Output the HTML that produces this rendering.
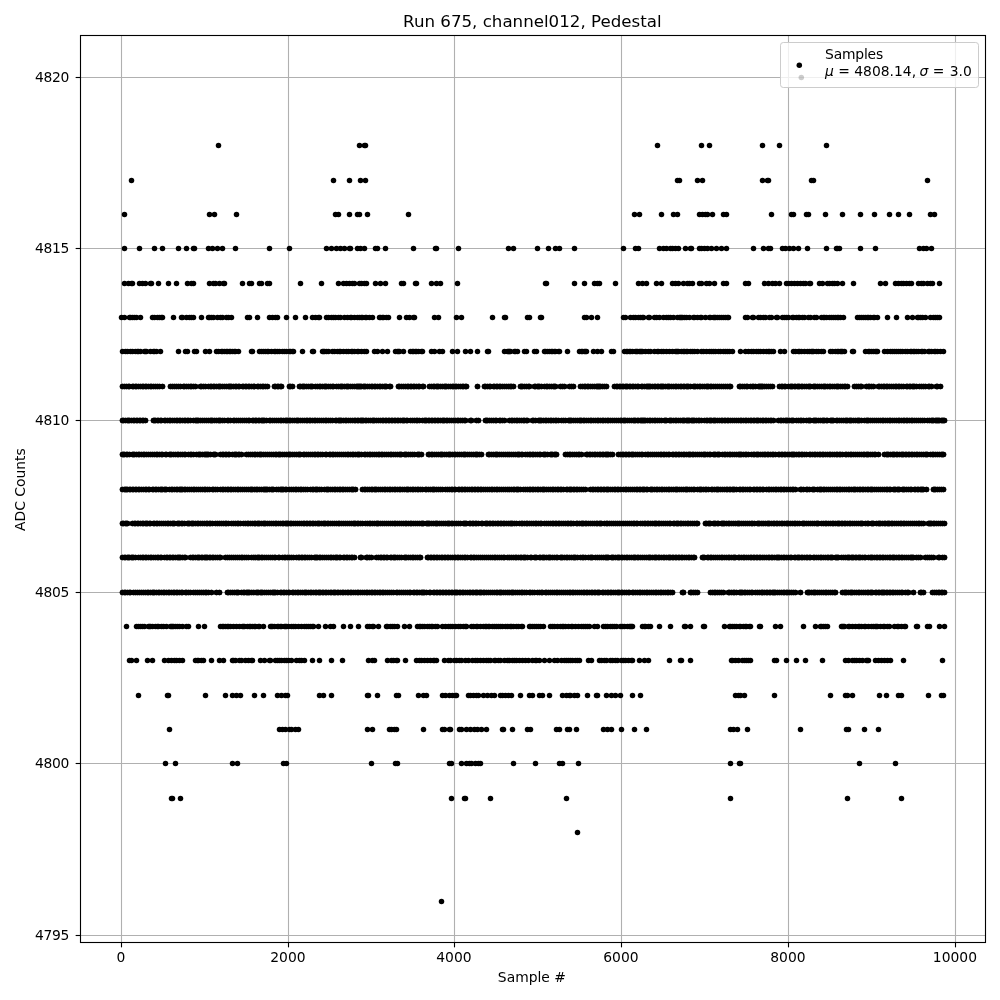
<!DOCTYPE html>
<html><head><meta charset="utf-8"><title>Run 675, channel012, Pedestal</title>
<style>html,body{margin:0;padding:0;background:#fff;}svg{display:block;will-change:transform;}text{font-family:"DejaVu Sans","Liberation Sans",sans-serif;fill:#000;}</style>
</head><body>
<svg width="1000" height="1000" viewBox="0 0 1000 1000">
<rect width="1000" height="1000" fill="#fff"/>
<g stroke="#b0b0b0" stroke-width="1.11" shape-rendering="auto">
<line x1="121.50" y1="35.5" x2="121.50" y2="942.5"/>
<line x1="288.50" y1="35.5" x2="288.50" y2="942.5"/>
<line x1="454.50" y1="35.5" x2="454.50" y2="942.5"/>
<line x1="621.50" y1="35.5" x2="621.50" y2="942.5"/>
<line x1="788.50" y1="35.5" x2="788.50" y2="942.5"/>
<line x1="955.50" y1="35.5" x2="955.50" y2="942.5"/>
<line x1="80.5" y1="935.50" x2="985.5" y2="935.50"/>
<line x1="80.5" y1="763.50" x2="985.5" y2="763.50"/>
<line x1="80.5" y1="592.50" x2="985.5" y2="592.50"/>
<line x1="80.5" y1="420.50" x2="985.5" y2="420.50"/>
<line x1="80.5" y1="248.50" x2="985.5" y2="248.50"/>
<line x1="80.5" y1="77.50" x2="985.5" y2="77.50"/>
</g>
<defs><marker id="d" markerUnits="userSpaceOnUse" markerWidth="8" markerHeight="8" refX="4" refY="4" viewBox="0 0 8 8" orient="0"><circle cx="4" cy="4" r="2.75" fill="#000"/></marker></defs>
<g fill="none" stroke="none" marker-start="url(#d)" marker-mid="url(#d)" marker-end="url(#d)">
<circle cx="441.5" cy="901.5" r="2.75" fill="#000"/>
<circle cx="577.5" cy="832.5" r="2.75" fill="#000"/>
<path d="M171.5 798.5H172.5H180.5H451.5H464.5H465.5H490.5H566.5H730.5H847.5H901.5"/>
<path d="M165.5 763.5H175.5H232.5H237.5H283.5H286.5H371.5H395.5H397.5H449.5H451.5H461.5H466.5H469.5H471.5H475.5H478.5H480.5H513.5H535.5H559.5H562.5H578.5H730.5H739.5H740.5H859.5H895.5"/>
<path d="M169.5 729.5H279.5H282.5H285.5H289.5H291.5H295.5H298.5H367.5H372.5H389.5H391.5H394.5H396.5H423.5H442.5H444.5H449.5H450.5H459.5H461.5H466.5H470.5H474.5H477.5H481.5H486.5H502.5H503.5H512.5H527.5H530.5H556.5H559.5H567.5H569.5H576.5H603.5H607.5H611.5H621.5H634.5H646.5H730.5H733.5H737.5H747.5H800.5H846.5H848.5H864.5H878.5"/>
<path d="M138.5 695.5H167.5H168.5H205.5H225.5H232.5H236.5H240.5H254.5H263.5H277.5H281.5H285.5H287.5H319.5H323.5H331.5H367.5H368.5H377.5H396.5H398.5H418.5H423.5H426.5H442.5H445.5H449.5H452.5H455.5H456.5H468.5H470.5H473.5H476.5H478.5H483.5H487.5H491.5H494.5H500.5H502.5H505.5H508.5H511.5H520.5H529.5H532.5H539.5H542.5H549.5H562.5H566.5H569.5H570.5H574.5H577.5H587.5H596.5H597.5H606.5H611.5H615.5H620.5H632.5H640.5H735.5H738.5H740.5H744.5H774.5H830.5H845.5H847.5H852.5H879.5H886.5H898.5H901.5H928.5H941.5H943.5"/>
<path d="M129.5 660.5H131.5H136.5H147.5H152.5H164.5H168.5H171.5H174.5H176.5H179.5H182.5H195.5H197.5H198.5H201.5H203.5H211.5H219.5H223.5H232.5H233.5H235.5H239.5H241.5H245.5H248.5H251.5H252.5H260.5H264.5H269.5H270.5H275.5H277.5H279.5H281.5H284.5H286.5H288.5H291.5H296.5H299.5H301.5H304.5H312.5H319.5H331.5H342.5H368.5H372.5H374.5H387.5H391.5H393.5H396.5H397.5H405.5H416.5H419.5H421.5H424.5H427.5H430.5H433.5H434.5H436.5H444.5H448.5H450.5H454.5H456.5H459.5H461.5H465.5H468.5H472.5H475.5H477.5H480.5H483.5H486.5H488.5H490.5H494.5H495.5H498.5H500.5H504.5H507.5H509.5H512.5H514.5H516.5H519.5H522.5H525.5H528.5H532.5H535.5H536.5H539.5H544.5H549.5H554.5H557.5H561.5H564.5H566.5H568.5H570.5H572.5H575.5H577.5H579.5H588.5H591.5H599.5H601.5H604.5H606.5H610.5H612.5H615.5H617.5H621.5H623.5H625.5H628.5H631.5H632.5H639.5H644.5H648.5H669.5H680.5H681.5H690.5H731.5H732.5H735.5H738.5H742.5H744.5H746.5H748.5H750.5H774.5H776.5H786.5H796.5H805.5H822.5H845.5H848.5H852.5H854.5H856.5H859.5H862.5H866.5H867.5H868.5H875.5H878.5H881.5H884.5H887.5H890.5H903.5H942.5"/>
<path d="M126.5 626.5H136.5H138.5H140.5H142.5H144.5H148.5H149.5H150.5H152.5H155.5H157.5H158.5H161.5H163.5H166.5H170.5H171.5H172.5H173.5H175.5H177.5H179.5H182.5H186.5H188.5H198.5H204.5H220.5H222.5H223.5H225.5H227.5H228.5H230.5H233.5H236.5H239.5H242.5H243.5H244.5H247.5H249.5H250.5H252.5H254.5H255.5H258.5H259.5H263.5H270.5H271.5H272.5H274.5H277.5H278.5H280.5H281.5H284.5H285.5H286.5H288.5H291.5H293.5H295.5H298.5H301.5H304.5H306.5H308.5H310.5H312.5H313.5H318.5H325.5H330.5H333.5H343.5H350.5H358.5H367.5H369.5H372.5H373.5H378.5H386.5H387.5H390.5H392.5H394.5H397.5H404.5H409.5H417.5H419.5H420.5H422.5H424.5H427.5H429.5H431.5H432.5H435.5H437.5H442.5H445.5H448.5H450.5H452.5H455.5H458.5H460.5H463.5H465.5H466.5H471.5H473.5H476.5H477.5H480.5H483.5H485.5H486.5H488.5H489.5H492.5H494.5H496.5H498.5H500.5H502.5H505.5H507.5H510.5H511.5H513.5H516.5H518.5H521.5H522.5H529.5H530.5H532.5H534.5H536.5H538.5H540.5H543.5H550.5H552.5H554.5H557.5H560.5H562.5H563.5H565.5H568.5H571.5H572.5H575.5H578.5H581.5H583.5H585.5H587.5H589.5H594.5H597.5H603.5H605.5H607.5H610.5H612.5H614.5H616.5H620.5H622.5H624.5H627.5H629.5H630.5H631.5H632.5H642.5H644.5H645.5H648.5H650.5H659.5H670.5H684.5H685.5H690.5H703.5H704.5H724.5H729.5H730.5H732.5H734.5H736.5H739.5H740.5H743.5H745.5H746.5H749.5H750.5H759.5H760.5H775.5H780.5H803.5H815.5H820.5H821.5H823.5H825.5H827.5H841.5H842.5H843.5H844.5H848.5H849.5H852.5H855.5H858.5H859.5H861.5H864.5H865.5H868.5H871.5H873.5H875.5H876.5H877.5H880.5H883.5H884.5H887.5H889.5H894.5H897.5H898.5H901.5H904.5H905.5H916.5H917.5H927.5H929.5H939.5H944.5"/>
<path d="M122.5 592.5H122.5H124.5H124.5H125.5H125.5H127.5H127.5H129.5H129.5H130.5H130.5H133.5H133.5H135.5H135.5H137.5H137.5H139.5H139.5H141.5H141.5H143.5H143.5H145.5H145.5H147.5H147.5H148.5H148.5H150.5H150.5H152.5H152.5H153.5H153.5H154.5H154.5H156.5H156.5H158.5H158.5H159.5H159.5H161.5H161.5H163.5H163.5H164.5H164.5H166.5H166.5H168.5H168.5H169.5H169.5H171.5H171.5H173.5H173.5H174.5H174.5H176.5H176.5H177.5H177.5H179.5H179.5H181.5H181.5H182.5H182.5H185.5H185.5H186.5H186.5H188.5H188.5H190.5H190.5H193.5H193.5H195.5H195.5H197.5H197.5H199.5H199.5H201.5H201.5H203.5H203.5H205.5H205.5H206.5H206.5H208.5H208.5H211.5H211.5H216.5H216.5H219.5H219.5H227.5H227.5H228.5H228.5H230.5H230.5H232.5H232.5H234.5H234.5H236.5H236.5H237.5H237.5H238.5H238.5H241.5H241.5H243.5H243.5H244.5H244.5H246.5H246.5H247.5H247.5H248.5H248.5H249.5H249.5H251.5H251.5H253.5H253.5H256.5H256.5H257.5H257.5H258.5H258.5H260.5H260.5H261.5H261.5H262.5H262.5H264.5H264.5H266.5H266.5H268.5H268.5H270.5H270.5H272.5H272.5H273.5H273.5H274.5H274.5H275.5H275.5H277.5H277.5H280.5H280.5H281.5H281.5H283.5H283.5H284.5H284.5H286.5H286.5H288.5H288.5H289.5H289.5H292.5H292.5H293.5H293.5H295.5H295.5H297.5H297.5H298.5H298.5H300.5H300.5H302.5H302.5H304.5H304.5H305.5H305.5H306.5H306.5H308.5H308.5H310.5H310.5H311.5H311.5H313.5H313.5H315.5H315.5H316.5H316.5H318.5H318.5H319.5H319.5H320.5H320.5H322.5H322.5H323.5H323.5H325.5H325.5H326.5H326.5H328.5H328.5H330.5H330.5H331.5H331.5H333.5H333.5H334.5H334.5H335.5H335.5H337.5H337.5H338.5H338.5H340.5H340.5H342.5H342.5H343.5H343.5H345.5H345.5H347.5H347.5H348.5H348.5H350.5H350.5H351.5H351.5H353.5H353.5H355.5H355.5H357.5H357.5H358.5H358.5H360.5H360.5H362.5H362.5H364.5H364.5H366.5H366.5H367.5H367.5H369.5H369.5H371.5H371.5H372.5H372.5H374.5H374.5H375.5H375.5H377.5H377.5H379.5H379.5H380.5H380.5H382.5H382.5H383.5H383.5H385.5H385.5H387.5H387.5H389.5H389.5H391.5H391.5H393.5H393.5H396.5H396.5H397.5H397.5H399.5H399.5H401.5H401.5H403.5H403.5H405.5H405.5H407.5H407.5H409.5H409.5H410.5H410.5H413.5H413.5H414.5H414.5H416.5H416.5H417.5H417.5H419.5H419.5H421.5H421.5H422.5H422.5H423.5H423.5H424.5H424.5H426.5H426.5H429.5H429.5H430.5H430.5H433.5H433.5H434.5H434.5H436.5H436.5H437.5H437.5H439.5H439.5H440.5H440.5H442.5H442.5H443.5H443.5H445.5H445.5H446.5H446.5H448.5H448.5H449.5H449.5H451.5H451.5H452.5H452.5H454.5H454.5H455.5H455.5H456.5H456.5H457.5H457.5H459.5H459.5H460.5H460.5H462.5H462.5H463.5H463.5H465.5H465.5H467.5H467.5H469.5H469.5H470.5H470.5H472.5H472.5H473.5H473.5H475.5H475.5H476.5H476.5H477.5H477.5H479.5H479.5H480.5H480.5H481.5H481.5H483.5H483.5H484.5H484.5H486.5H486.5H488.5H488.5H490.5H490.5H492.5H492.5H494.5H494.5H496.5H496.5H497.5H497.5H499.5H499.5H500.5H500.5H501.5H501.5H503.5H503.5H505.5H505.5H507.5H507.5H509.5H509.5H511.5H511.5H512.5H512.5H513.5H513.5H515.5H515.5H517.5H517.5H519.5H519.5H521.5H521.5H522.5H522.5H524.5H524.5H526.5H526.5H529.5H529.5H530.5H530.5H532.5H532.5H534.5H534.5H537.5H537.5H539.5H539.5H541.5H541.5H542.5H542.5H545.5H545.5H546.5H546.5H548.5H548.5H550.5H550.5H552.5H552.5H554.5H554.5H556.5H556.5H557.5H557.5H559.5H559.5H561.5H561.5H563.5H563.5H565.5H565.5H567.5H567.5H569.5H569.5H570.5H570.5H572.5H572.5H573.5H573.5H575.5H575.5H577.5H577.5H579.5H579.5H581.5H581.5H583.5H583.5H584.5H584.5H586.5H586.5H587.5H587.5H589.5H589.5H591.5H591.5H592.5H592.5H594.5H594.5H595.5H595.5H597.5H597.5H598.5H598.5H599.5H599.5H602.5H602.5H603.5H603.5H605.5H605.5H607.5H607.5H608.5H608.5H610.5H610.5H611.5H611.5H613.5H613.5H615.5H615.5H617.5H617.5H618.5H618.5H619.5H619.5H621.5H621.5H622.5H622.5H624.5H624.5H626.5H626.5H628.5H628.5H629.5H629.5H632.5H632.5H633.5H633.5H635.5H635.5H637.5H637.5H639.5H639.5H640.5H640.5H642.5H642.5H644.5H644.5H646.5H646.5H647.5H647.5H649.5H649.5H651.5H651.5H653.5H653.5H655.5H655.5H656.5H656.5H658.5H658.5H660.5H660.5H661.5H661.5H663.5H663.5H665.5H665.5H667.5H667.5H668.5H668.5H670.5H670.5H672.5H672.5H682.5H682.5H683.5H683.5H690.5H690.5H691.5H691.5H693.5H693.5H695.5H695.5H697.5H697.5H710.5H710.5H712.5H712.5H714.5H714.5H715.5H715.5H717.5H717.5H719.5H719.5H721.5H721.5H723.5H723.5H728.5H728.5H729.5H729.5H731.5H731.5H733.5H733.5H734.5H734.5H736.5H736.5H739.5H739.5H740.5H740.5H741.5H741.5H742.5H742.5H744.5H744.5H745.5H745.5H747.5H747.5H749.5H749.5H751.5H751.5H752.5H752.5H755.5H755.5H757.5H757.5H759.5H759.5H761.5H761.5H762.5H762.5H764.5H764.5H766.5H766.5H767.5H767.5H769.5H769.5H770.5H770.5H772.5H772.5H773.5H773.5H774.5H774.5H775.5H775.5H777.5H777.5H779.5H779.5H781.5H781.5H783.5H783.5H784.5H784.5H786.5H786.5H787.5H787.5H789.5H789.5H791.5H791.5H793.5H793.5H795.5H795.5H800.5H800.5H807.5H807.5H808.5H808.5H809.5H809.5H811.5H811.5H813.5H813.5H814.5H814.5H815.5H815.5H817.5H817.5H819.5H819.5H821.5H821.5H823.5H823.5H825.5H825.5H826.5H826.5H828.5H828.5H830.5H830.5H832.5H832.5H834.5H834.5H835.5H835.5H842.5H842.5H844.5H844.5H845.5H845.5H846.5H846.5H848.5H848.5H850.5H850.5H851.5H851.5H852.5H852.5H854.5H854.5H856.5H856.5H858.5H858.5H859.5H859.5H861.5H861.5H863.5H863.5H865.5H865.5H867.5H867.5H868.5H868.5H870.5H870.5H871.5H871.5H872.5H872.5H875.5H875.5H876.5H876.5H878.5H878.5H879.5H879.5H881.5H881.5H882.5H882.5H883.5H883.5H884.5H884.5H886.5H886.5H887.5H887.5H889.5H889.5H890.5H890.5H892.5H892.5H893.5H893.5H895.5H895.5H897.5H897.5H899.5H899.5H901.5H901.5H902.5H902.5H905.5H905.5H907.5H907.5H908.5H908.5H913.5H913.5H920.5H920.5H921.5H921.5H923.5H923.5H932.5H932.5H934.5H934.5H936.5H936.5H938.5H938.5H939.5H939.5H941.5H941.5H942.5H942.5H944.5H944.5"/>
<path d="M122.5 557.5H122.5H124.5H124.5H125.5H125.5H127.5H127.5H128.5H128.5H129.5H129.5H131.5H131.5H132.5H132.5H133.5H133.5H135.5H135.5H138.5H138.5H140.5H140.5H142.5H142.5H143.5H143.5H145.5H145.5H146.5H146.5H148.5H148.5H150.5H150.5H151.5H151.5H153.5H153.5H155.5H155.5H157.5H157.5H158.5H158.5H160.5H160.5H161.5H161.5H164.5H164.5H166.5H166.5H167.5H167.5H169.5H169.5H170.5H170.5H172.5H172.5H173.5H173.5H175.5H175.5H177.5H177.5H178.5H178.5H179.5H179.5H180.5H180.5H182.5H182.5H184.5H184.5H185.5H185.5H190.5H190.5H192.5H192.5H193.5H193.5H195.5H195.5H197.5H197.5H198.5H198.5H199.5H199.5H201.5H201.5H202.5H202.5H204.5H204.5H205.5H205.5H206.5H206.5H207.5H207.5H209.5H209.5H210.5H210.5H212.5H212.5H213.5H213.5H215.5H215.5H217.5H217.5H219.5H219.5H220.5H220.5H225.5H225.5H227.5H227.5H229.5H229.5H231.5H231.5H233.5H233.5H235.5H235.5H237.5H237.5H239.5H239.5H241.5H241.5H242.5H242.5H244.5H244.5H246.5H246.5H248.5H248.5H251.5H251.5H253.5H253.5H255.5H255.5H257.5H257.5H258.5H258.5H259.5H259.5H261.5H261.5H262.5H262.5H264.5H264.5H266.5H266.5H268.5H268.5H270.5H270.5H272.5H272.5H274.5H274.5H275.5H275.5H278.5H278.5H279.5H279.5H282.5H282.5H284.5H284.5H285.5H285.5H287.5H287.5H289.5H289.5H291.5H291.5H293.5H293.5H296.5H296.5H298.5H298.5H299.5H299.5H301.5H301.5H302.5H302.5H304.5H304.5H305.5H305.5H307.5H307.5H309.5H309.5H311.5H311.5H314.5H314.5H315.5H315.5H316.5H316.5H317.5H317.5H319.5H319.5H320.5H320.5H322.5H322.5H324.5H324.5H326.5H326.5H328.5H328.5H330.5H330.5H331.5H331.5H333.5H333.5H335.5H335.5H336.5H336.5H337.5H337.5H339.5H339.5H340.5H340.5H343.5H343.5H344.5H344.5H346.5H346.5H347.5H347.5H349.5H349.5H351.5H351.5H352.5H352.5H354.5H354.5H360.5H360.5H361.5H361.5H366.5H366.5H367.5H367.5H369.5H369.5H371.5H371.5H376.5H376.5H378.5H378.5H380.5H380.5H381.5H381.5H383.5H383.5H384.5H384.5H386.5H386.5H387.5H387.5H390.5H390.5H391.5H391.5H393.5H393.5H394.5H394.5H395.5H395.5H397.5H397.5H399.5H399.5H401.5H401.5H404.5H404.5H405.5H405.5H406.5H406.5H408.5H408.5H410.5H410.5H412.5H412.5H413.5H413.5H415.5H415.5H417.5H417.5H419.5H419.5H420.5H420.5H427.5H427.5H428.5H428.5H430.5H430.5H431.5H431.5H433.5H433.5H434.5H434.5H436.5H436.5H437.5H437.5H439.5H439.5H441.5H441.5H442.5H442.5H444.5H444.5H445.5H445.5H447.5H447.5H448.5H448.5H450.5H450.5H452.5H452.5H454.5H454.5H455.5H455.5H457.5H457.5H458.5H458.5H460.5H460.5H462.5H462.5H464.5H464.5H465.5H465.5H467.5H467.5H470.5H470.5H471.5H471.5H473.5H473.5H474.5H474.5H476.5H476.5H478.5H478.5H480.5H480.5H482.5H482.5H484.5H484.5H486.5H486.5H488.5H488.5H490.5H490.5H492.5H492.5H494.5H494.5H495.5H495.5H497.5H497.5H499.5H499.5H501.5H501.5H503.5H503.5H504.5H504.5H507.5H507.5H509.5H509.5H511.5H511.5H513.5H513.5H515.5H515.5H516.5H516.5H518.5H518.5H520.5H520.5H521.5H521.5H523.5H523.5H524.5H524.5H525.5H525.5H527.5H527.5H530.5H530.5H531.5H531.5H534.5H534.5H535.5H535.5H536.5H536.5H539.5H539.5H540.5H540.5H542.5H542.5H543.5H543.5H544.5H544.5H546.5H546.5H548.5H548.5H549.5H549.5H550.5H550.5H552.5H552.5H554.5H554.5H556.5H556.5H557.5H557.5H560.5H560.5H561.5H561.5H562.5H562.5H564.5H564.5H566.5H566.5H567.5H567.5H569.5H569.5H571.5H571.5H573.5H573.5H574.5H574.5H575.5H575.5H577.5H577.5H580.5H580.5H582.5H582.5H583.5H583.5H585.5H585.5H588.5H588.5H590.5H590.5H591.5H591.5H592.5H592.5H595.5H595.5H597.5H597.5H599.5H599.5H601.5H601.5H603.5H603.5H605.5H605.5H606.5H606.5H607.5H607.5H608.5H608.5H611.5H611.5H612.5H612.5H613.5H613.5H615.5H615.5H617.5H617.5H618.5H618.5H619.5H619.5H621.5H621.5H622.5H622.5H624.5H624.5H626.5H626.5H627.5H627.5H629.5H629.5H631.5H631.5H633.5H633.5H634.5H634.5H635.5H635.5H637.5H637.5H638.5H638.5H640.5H640.5H642.5H642.5H644.5H644.5H646.5H646.5H648.5H648.5H649.5H649.5H650.5H650.5H652.5H652.5H654.5H654.5H655.5H655.5H656.5H656.5H658.5H658.5H659.5H659.5H661.5H661.5H663.5H663.5H664.5H664.5H666.5H666.5H668.5H668.5H669.5H669.5H670.5H670.5H672.5H672.5H673.5H673.5H675.5H675.5H676.5H676.5H678.5H678.5H679.5H679.5H681.5H681.5H682.5H682.5H684.5H684.5H686.5H686.5H688.5H688.5H689.5H689.5H691.5H691.5H693.5H693.5H694.5H694.5H702.5H702.5H703.5H703.5H704.5H704.5H707.5H707.5H708.5H708.5H710.5H710.5H711.5H711.5H713.5H713.5H715.5H715.5H717.5H717.5H719.5H719.5H721.5H721.5H722.5H722.5H724.5H724.5H726.5H726.5H728.5H728.5H729.5H729.5H731.5H731.5H733.5H733.5H734.5H734.5H735.5H735.5H738.5H738.5H739.5H739.5H741.5H741.5H743.5H743.5H744.5H744.5H746.5H746.5H748.5H748.5H750.5H750.5H751.5H751.5H753.5H753.5H754.5H754.5H756.5H756.5H757.5H757.5H759.5H759.5H760.5H760.5H762.5H762.5H764.5H764.5H766.5H766.5H768.5H768.5H769.5H769.5H771.5H771.5H772.5H772.5H774.5H774.5H776.5H776.5H777.5H777.5H778.5H778.5H779.5H779.5H781.5H781.5H783.5H783.5H784.5H784.5H786.5H786.5H788.5H788.5H790.5H790.5H791.5H791.5H794.5H794.5H795.5H795.5H797.5H797.5H798.5H798.5H799.5H799.5H801.5H801.5H802.5H802.5H804.5H804.5H806.5H806.5H807.5H807.5H809.5H809.5H810.5H810.5H813.5H813.5H814.5H814.5H816.5H816.5H818.5H818.5H820.5H820.5H821.5H821.5H823.5H823.5H825.5H825.5H827.5H827.5H828.5H828.5H830.5H830.5H831.5H831.5H832.5H832.5H835.5H835.5H836.5H836.5H837.5H837.5H838.5H838.5H841.5H841.5H843.5H843.5H845.5H845.5H847.5H847.5H848.5H848.5H849.5H849.5H851.5H851.5H852.5H852.5H853.5H853.5H855.5H855.5H856.5H856.5H858.5H858.5H859.5H859.5H860.5H860.5H862.5H862.5H864.5H864.5H865.5H865.5H868.5H868.5H870.5H870.5H871.5H871.5H872.5H872.5H874.5H874.5H876.5H876.5H877.5H877.5H879.5H879.5H880.5H880.5H882.5H882.5H883.5H883.5H885.5H885.5H887.5H887.5H889.5H889.5H890.5H890.5H892.5H892.5H893.5H893.5H894.5H894.5H896.5H896.5H898.5H898.5H899.5H899.5H901.5H901.5H902.5H902.5H904.5H904.5H906.5H906.5H908.5H908.5H910.5H910.5H911.5H911.5H912.5H912.5H913.5H913.5H916.5H916.5H918.5H918.5H920.5H920.5H925.5H925.5H927.5H927.5H929.5H929.5H931.5H931.5H933.5H933.5H938.5H938.5H939.5H939.5H942.5H942.5H944.5H944.5"/>
<path d="M122.5 523.5H122.5H123.5H123.5H125.5H125.5H126.5H126.5H127.5H127.5H132.5H132.5H134.5H134.5H135.5H135.5H137.5H137.5H138.5H138.5H140.5H140.5H142.5H142.5H143.5H143.5H145.5H145.5H146.5H146.5H147.5H147.5H149.5H149.5H150.5H150.5H153.5H153.5H154.5H154.5H156.5H156.5H157.5H157.5H159.5H159.5H161.5H161.5H163.5H163.5H165.5H165.5H167.5H167.5H168.5H168.5H170.5H170.5H172.5H172.5H173.5H173.5H174.5H174.5H177.5H177.5H178.5H178.5H179.5H179.5H181.5H181.5H182.5H182.5H184.5H184.5H187.5H187.5H188.5H188.5H189.5H189.5H191.5H191.5H192.5H192.5H193.5H193.5H195.5H195.5H197.5H197.5H198.5H198.5H200.5H200.5H202.5H202.5H204.5H204.5H206.5H206.5H207.5H207.5H209.5H209.5H210.5H210.5H212.5H212.5H215.5H215.5H217.5H217.5H219.5H219.5H221.5H221.5H223.5H223.5H225.5H225.5H226.5H226.5H228.5H228.5H231.5H231.5H233.5H233.5H235.5H235.5H237.5H237.5H238.5H238.5H240.5H240.5H243.5H243.5H245.5H245.5H247.5H247.5H248.5H248.5H250.5H250.5H252.5H252.5H254.5H254.5H255.5H255.5H257.5H257.5H258.5H258.5H259.5H259.5H261.5H261.5H263.5H263.5H264.5H264.5H265.5H265.5H267.5H267.5H269.5H269.5H271.5H271.5H273.5H273.5H275.5H275.5H276.5H276.5H278.5H278.5H280.5H280.5H282.5H282.5H283.5H283.5H285.5H285.5H286.5H286.5H287.5H287.5H288.5H288.5H290.5H290.5H291.5H291.5H293.5H293.5H295.5H295.5H297.5H297.5H299.5H299.5H301.5H301.5H303.5H303.5H304.5H304.5H306.5H306.5H307.5H307.5H309.5H309.5H310.5H310.5H312.5H312.5H313.5H313.5H315.5H315.5H317.5H317.5H318.5H318.5H319.5H319.5H321.5H321.5H323.5H323.5H324.5H324.5H325.5H325.5H327.5H327.5H328.5H328.5H330.5H330.5H332.5H332.5H334.5H334.5H336.5H336.5H338.5H338.5H339.5H339.5H341.5H341.5H343.5H343.5H345.5H345.5H347.5H347.5H349.5H349.5H351.5H351.5H353.5H353.5H354.5H354.5H355.5H355.5H357.5H357.5H358.5H358.5H360.5H360.5H362.5H362.5H365.5H365.5H367.5H367.5H369.5H369.5H370.5H370.5H372.5H372.5H374.5H374.5H376.5H376.5H377.5H377.5H378.5H378.5H380.5H380.5H382.5H382.5H384.5H384.5H386.5H386.5H388.5H388.5H390.5H390.5H392.5H392.5H394.5H394.5H395.5H395.5H397.5H397.5H399.5H399.5H401.5H401.5H403.5H403.5H405.5H405.5H406.5H406.5H408.5H408.5H410.5H410.5H411.5H411.5H413.5H413.5H415.5H415.5H417.5H417.5H419.5H419.5H421.5H421.5H422.5H422.5H423.5H423.5H426.5H426.5H427.5H427.5H428.5H428.5H429.5H429.5H431.5H431.5H433.5H433.5H435.5H435.5H436.5H436.5H437.5H437.5H439.5H439.5H441.5H441.5H443.5H443.5H445.5H445.5H447.5H447.5H448.5H448.5H449.5H449.5H451.5H451.5H452.5H452.5H454.5H454.5H456.5H456.5H458.5H458.5H460.5H460.5H463.5H463.5H464.5H464.5H465.5H465.5H466.5H466.5H469.5H469.5H470.5H470.5H472.5H472.5H473.5H473.5H475.5H475.5H476.5H476.5H478.5H478.5H481.5H481.5H482.5H482.5H485.5H485.5H486.5H486.5H487.5H487.5H489.5H489.5H490.5H490.5H492.5H492.5H493.5H493.5H495.5H495.5H497.5H497.5H498.5H498.5H500.5H500.5H501.5H501.5H503.5H503.5H504.5H504.5H506.5H506.5H508.5H508.5H510.5H510.5H511.5H511.5H512.5H512.5H514.5H514.5H516.5H516.5H519.5H519.5H521.5H521.5H522.5H522.5H524.5H524.5H526.5H526.5H527.5H527.5H529.5H529.5H531.5H531.5H533.5H533.5H535.5H535.5H536.5H536.5H538.5H538.5H540.5H540.5H541.5H541.5H544.5H544.5H546.5H546.5H548.5H548.5H550.5H550.5H552.5H552.5H553.5H553.5H555.5H555.5H556.5H556.5H558.5H558.5H559.5H559.5H561.5H561.5H563.5H563.5H565.5H565.5H567.5H567.5H568.5H568.5H570.5H570.5H571.5H571.5H573.5H573.5H576.5H576.5H577.5H577.5H579.5H579.5H581.5H581.5H582.5H582.5H583.5H583.5H585.5H585.5H586.5H586.5H588.5H588.5H590.5H590.5H592.5H592.5H594.5H594.5H596.5H596.5H597.5H597.5H599.5H599.5H600.5H600.5H601.5H601.5H604.5H604.5H606.5H606.5H607.5H607.5H609.5H609.5H611.5H611.5H613.5H613.5H615.5H615.5H617.5H617.5H619.5H619.5H621.5H621.5H623.5H623.5H625.5H625.5H627.5H627.5H629.5H629.5H631.5H631.5H633.5H633.5H634.5H634.5H636.5H636.5H637.5H637.5H640.5H640.5H642.5H642.5H644.5H644.5H645.5H645.5H647.5H647.5H648.5H648.5H650.5H650.5H652.5H652.5H654.5H654.5H655.5H655.5H656.5H656.5H658.5H658.5H659.5H659.5H661.5H661.5H663.5H663.5H665.5H665.5H667.5H667.5H669.5H669.5H670.5H670.5H673.5H673.5H674.5H674.5H676.5H676.5H677.5H677.5H678.5H678.5H680.5H680.5H681.5H681.5H683.5H683.5H685.5H685.5H687.5H687.5H688.5H688.5H690.5H690.5H692.5H692.5H694.5H694.5H696.5H696.5H697.5H697.5H705.5H705.5H706.5H706.5H708.5H708.5H709.5H709.5H710.5H710.5H713.5H713.5H714.5H714.5H715.5H715.5H717.5H717.5H718.5H718.5H721.5H721.5H722.5H722.5H723.5H723.5H724.5H724.5H726.5H726.5H728.5H728.5H729.5H729.5H731.5H731.5H733.5H733.5H735.5H735.5H737.5H737.5H738.5H738.5H739.5H739.5H741.5H741.5H743.5H743.5H745.5H745.5H747.5H747.5H749.5H749.5H751.5H751.5H752.5H752.5H754.5H754.5H757.5H757.5H758.5H758.5H759.5H759.5H761.5H761.5H763.5H763.5H765.5H765.5H767.5H767.5H768.5H768.5H769.5H769.5H771.5H771.5H773.5H773.5H774.5H774.5H776.5H776.5H777.5H777.5H779.5H779.5H781.5H781.5H782.5H782.5H784.5H784.5H786.5H786.5H787.5H787.5H788.5H788.5H790.5H790.5H792.5H792.5H794.5H794.5H795.5H795.5H797.5H797.5H799.5H799.5H802.5H802.5H803.5H803.5H804.5H804.5H806.5H806.5H808.5H808.5H810.5H810.5H812.5H812.5H814.5H814.5H816.5H816.5H817.5H817.5H818.5H818.5H821.5H821.5H823.5H823.5H825.5H825.5H826.5H826.5H828.5H828.5H830.5H830.5H832.5H832.5H833.5H833.5H835.5H835.5H837.5H837.5H838.5H838.5H839.5H839.5H841.5H841.5H842.5H842.5H844.5H844.5H845.5H845.5H847.5H847.5H849.5H849.5H850.5H850.5H852.5H852.5H854.5H854.5H856.5H856.5H858.5H858.5H860.5H860.5H861.5H861.5H862.5H862.5H865.5H865.5H867.5H867.5H868.5H868.5H871.5H871.5H872.5H872.5H873.5H873.5H876.5H876.5H878.5H878.5H879.5H879.5H880.5H880.5H882.5H882.5H884.5H884.5H885.5H885.5H887.5H887.5H888.5H888.5H889.5H889.5H891.5H891.5H892.5H892.5H894.5H894.5H896.5H896.5H898.5H898.5H900.5H900.5H901.5H901.5H903.5H903.5H904.5H904.5H906.5H906.5H908.5H908.5H910.5H910.5H912.5H912.5H914.5H914.5H916.5H916.5H918.5H918.5H919.5H919.5H921.5H921.5H923.5H923.5H928.5H928.5H929.5H929.5H930.5H930.5H931.5H931.5H933.5H933.5H934.5H934.5H936.5H936.5H938.5H938.5H940.5H940.5H942.5H942.5H944.5H944.5"/>
<path d="M122.5 489.5H122.5H124.5H124.5H125.5H125.5H126.5H126.5H127.5H127.5H129.5H129.5H130.5H130.5H132.5H132.5H133.5H133.5H135.5H135.5H136.5H136.5H138.5H138.5H139.5H139.5H141.5H141.5H143.5H143.5H145.5H145.5H146.5H146.5H148.5H148.5H149.5H149.5H152.5H152.5H153.5H153.5H155.5H155.5H156.5H156.5H158.5H158.5H160.5H160.5H161.5H161.5H162.5H162.5H164.5H164.5H165.5H165.5H166.5H166.5H169.5H169.5H171.5H171.5H172.5H172.5H174.5H174.5H176.5H176.5H177.5H177.5H179.5H179.5H180.5H180.5H181.5H181.5H182.5H182.5H184.5H184.5H185.5H185.5H187.5H187.5H189.5H189.5H191.5H191.5H193.5H193.5H194.5H194.5H196.5H196.5H198.5H198.5H200.5H200.5H202.5H202.5H204.5H204.5H205.5H205.5H207.5H207.5H209.5H209.5H212.5H212.5H213.5H213.5H215.5H215.5H217.5H217.5H220.5H220.5H222.5H222.5H223.5H223.5H225.5H225.5H227.5H227.5H228.5H228.5H230.5H230.5H231.5H231.5H233.5H233.5H235.5H235.5H237.5H237.5H238.5H238.5H240.5H240.5H242.5H242.5H244.5H244.5H246.5H246.5H248.5H248.5H250.5H250.5H251.5H251.5H252.5H252.5H254.5H254.5H256.5H256.5H257.5H257.5H259.5H259.5H261.5H261.5H263.5H263.5H264.5H264.5H265.5H265.5H266.5H266.5H267.5H267.5H269.5H269.5H271.5H271.5H272.5H272.5H273.5H273.5H276.5H276.5H278.5H278.5H280.5H280.5H281.5H281.5H282.5H282.5H283.5H283.5H285.5H285.5H286.5H286.5H289.5H289.5H291.5H291.5H293.5H293.5H295.5H295.5H296.5H296.5H298.5H298.5H300.5H300.5H301.5H301.5H303.5H303.5H305.5H305.5H307.5H307.5H310.5H310.5H312.5H312.5H313.5H313.5H315.5H315.5H316.5H316.5H317.5H317.5H319.5H319.5H321.5H321.5H324.5H324.5H326.5H326.5H327.5H327.5H328.5H328.5H330.5H330.5H332.5H332.5H334.5H334.5H335.5H335.5H337.5H337.5H339.5H339.5H340.5H340.5H342.5H342.5H343.5H343.5H345.5H345.5H347.5H347.5H349.5H349.5H351.5H351.5H352.5H352.5H353.5H353.5H355.5H355.5H362.5H362.5H364.5H364.5H365.5H365.5H367.5H367.5H369.5H369.5H371.5H371.5H372.5H372.5H374.5H374.5H375.5H375.5H376.5H376.5H378.5H378.5H380.5H380.5H382.5H382.5H384.5H384.5H385.5H385.5H387.5H387.5H389.5H389.5H390.5H390.5H392.5H392.5H394.5H394.5H395.5H395.5H397.5H397.5H399.5H399.5H400.5H400.5H402.5H402.5H404.5H404.5H406.5H406.5H407.5H407.5H408.5H408.5H410.5H410.5H412.5H412.5H413.5H413.5H415.5H415.5H417.5H417.5H418.5H418.5H420.5H420.5H422.5H422.5H425.5H425.5H426.5H426.5H428.5H428.5H430.5H430.5H432.5H432.5H433.5H433.5H434.5H434.5H436.5H436.5H438.5H438.5H440.5H440.5H442.5H442.5H445.5H445.5H447.5H447.5H449.5H449.5H451.5H451.5H452.5H452.5H454.5H454.5H455.5H455.5H458.5H458.5H459.5H459.5H461.5H461.5H462.5H462.5H464.5H464.5H465.5H465.5H467.5H467.5H469.5H469.5H471.5H471.5H472.5H472.5H474.5H474.5H475.5H475.5H477.5H477.5H478.5H478.5H480.5H480.5H481.5H481.5H483.5H483.5H485.5H485.5H487.5H487.5H489.5H489.5H491.5H491.5H492.5H492.5H494.5H494.5H496.5H496.5H497.5H497.5H499.5H499.5H501.5H501.5H503.5H503.5H505.5H505.5H507.5H507.5H509.5H509.5H511.5H511.5H513.5H513.5H514.5H514.5H516.5H516.5H517.5H517.5H518.5H518.5H520.5H520.5H523.5H523.5H525.5H525.5H527.5H527.5H529.5H529.5H530.5H530.5H532.5H532.5H533.5H533.5H535.5H535.5H537.5H537.5H538.5H538.5H540.5H540.5H542.5H542.5H543.5H543.5H544.5H544.5H546.5H546.5H548.5H548.5H550.5H550.5H552.5H552.5H553.5H553.5H555.5H555.5H557.5H557.5H558.5H558.5H560.5H560.5H561.5H561.5H563.5H563.5H566.5H566.5H567.5H567.5H569.5H569.5H570.5H570.5H571.5H571.5H573.5H573.5H574.5H574.5H576.5H576.5H577.5H577.5H579.5H579.5H581.5H581.5H583.5H583.5H585.5H585.5H590.5H590.5H592.5H592.5H593.5H593.5H595.5H595.5H597.5H597.5H598.5H598.5H600.5H600.5H601.5H601.5H603.5H603.5H604.5H604.5H606.5H606.5H607.5H607.5H608.5H608.5H610.5H610.5H612.5H612.5H614.5H614.5H615.5H615.5H617.5H617.5H618.5H618.5H620.5H620.5H623.5H623.5H625.5H625.5H626.5H626.5H628.5H628.5H630.5H630.5H632.5H632.5H634.5H634.5H636.5H636.5H637.5H637.5H639.5H639.5H640.5H640.5H642.5H642.5H643.5H643.5H644.5H644.5H646.5H646.5H647.5H647.5H650.5H650.5H651.5H651.5H652.5H652.5H654.5H654.5H656.5H656.5H657.5H657.5H659.5H659.5H661.5H661.5H662.5H662.5H664.5H664.5H666.5H666.5H668.5H668.5H669.5H669.5H671.5H671.5H673.5H673.5H675.5H675.5H676.5H676.5H677.5H677.5H679.5H679.5H681.5H681.5H683.5H683.5H685.5H685.5H686.5H686.5H687.5H687.5H689.5H689.5H691.5H691.5H693.5H693.5H694.5H694.5H697.5H697.5H699.5H699.5H700.5H700.5H701.5H701.5H703.5H703.5H705.5H705.5H706.5H706.5H708.5H708.5H711.5H711.5H712.5H712.5H714.5H714.5H716.5H716.5H717.5H717.5H718.5H718.5H720.5H720.5H722.5H722.5H724.5H724.5H726.5H726.5H727.5H727.5H729.5H729.5H730.5H730.5H732.5H732.5H733.5H733.5H734.5H734.5H736.5H736.5H739.5H739.5H740.5H740.5H742.5H742.5H743.5H743.5H745.5H745.5H747.5H747.5H749.5H749.5H750.5H750.5H753.5H753.5H754.5H754.5H756.5H756.5H757.5H757.5H759.5H759.5H760.5H760.5H762.5H762.5H763.5H763.5H766.5H766.5H768.5H768.5H769.5H769.5H771.5H771.5H773.5H773.5H775.5H775.5H776.5H776.5H778.5H778.5H780.5H780.5H781.5H781.5H783.5H783.5H784.5H784.5H786.5H786.5H788.5H788.5H790.5H790.5H792.5H792.5H793.5H793.5H795.5H795.5H800.5H800.5H801.5H801.5H803.5H803.5H806.5H806.5H807.5H807.5H809.5H809.5H812.5H812.5H813.5H813.5H814.5H814.5H817.5H817.5H819.5H819.5H820.5H820.5H821.5H821.5H823.5H823.5H824.5H824.5H826.5H826.5H828.5H828.5H830.5H830.5H832.5H832.5H834.5H834.5H836.5H836.5H837.5H837.5H839.5H839.5H840.5H840.5H842.5H842.5H844.5H844.5H846.5H846.5H848.5H848.5H849.5H849.5H851.5H851.5H853.5H853.5H854.5H854.5H855.5H855.5H857.5H857.5H859.5H859.5H860.5H860.5H862.5H862.5H863.5H863.5H865.5H865.5H867.5H867.5H868.5H868.5H870.5H870.5H871.5H871.5H872.5H872.5H874.5H874.5H876.5H876.5H878.5H878.5H880.5H880.5H882.5H882.5H884.5H884.5H886.5H886.5H887.5H887.5H889.5H889.5H890.5H890.5H893.5H893.5H894.5H894.5H895.5H895.5H897.5H897.5H898.5H898.5H899.5H899.5H902.5H902.5H903.5H903.5H904.5H904.5H906.5H906.5H908.5H908.5H910.5H910.5H911.5H911.5H914.5H914.5H915.5H915.5H917.5H917.5H918.5H918.5H920.5H920.5H921.5H921.5H922.5H922.5H923.5H923.5H926.5H926.5H933.5H933.5H934.5H934.5H935.5H935.5H937.5H937.5H939.5H939.5H941.5H941.5H943.5H943.5"/>
<path d="M122.5 454.5H122.5H123.5H123.5H124.5H124.5H126.5H126.5H127.5H127.5H129.5H129.5H132.5H132.5H133.5H133.5H134.5H134.5H136.5H136.5H138.5H138.5H139.5H139.5H141.5H141.5H143.5H143.5H144.5H144.5H146.5H146.5H148.5H148.5H150.5H150.5H152.5H152.5H154.5H154.5H156.5H156.5H157.5H157.5H159.5H159.5H161.5H161.5H162.5H162.5H165.5H165.5H166.5H166.5H169.5H169.5H170.5H170.5H171.5H171.5H173.5H173.5H175.5H175.5H177.5H177.5H178.5H178.5H180.5H180.5H182.5H182.5H184.5H184.5H185.5H185.5H188.5H188.5H190.5H190.5H191.5H191.5H193.5H193.5H196.5H196.5H198.5H198.5H199.5H199.5H200.5H200.5H202.5H202.5H204.5H204.5H205.5H205.5H206.5H206.5H207.5H207.5H208.5H208.5H210.5H210.5H213.5H213.5H214.5H214.5H215.5H215.5H220.5H220.5H222.5H222.5H223.5H223.5H225.5H225.5H226.5H226.5H228.5H228.5H229.5H229.5H232.5H232.5H234.5H234.5H235.5H235.5H236.5H236.5H238.5H238.5H239.5H239.5H241.5H241.5H246.5H246.5H248.5H248.5H250.5H250.5H252.5H252.5H254.5H254.5H255.5H255.5H257.5H257.5H259.5H259.5H260.5H260.5H261.5H261.5H263.5H263.5H265.5H265.5H267.5H267.5H269.5H269.5H271.5H271.5H273.5H273.5H275.5H275.5H276.5H276.5H278.5H278.5H279.5H279.5H280.5H280.5H282.5H282.5H284.5H284.5H286.5H286.5H288.5H288.5H289.5H289.5H290.5H290.5H292.5H292.5H294.5H294.5H296.5H296.5H298.5H298.5H299.5H299.5H300.5H300.5H303.5H303.5H304.5H304.5H306.5H306.5H308.5H308.5H310.5H310.5H312.5H312.5H314.5H314.5H315.5H315.5H317.5H317.5H318.5H318.5H320.5H320.5H322.5H322.5H325.5H325.5H326.5H326.5H329.5H329.5H330.5H330.5H332.5H332.5H333.5H333.5H335.5H335.5H337.5H337.5H339.5H339.5H341.5H341.5H343.5H343.5H345.5H345.5H347.5H347.5H348.5H348.5H350.5H350.5H352.5H352.5H353.5H353.5H355.5H355.5H357.5H357.5H358.5H358.5H359.5H359.5H361.5H361.5H364.5H364.5H365.5H365.5H367.5H367.5H369.5H369.5H370.5H370.5H372.5H372.5H374.5H374.5H376.5H376.5H378.5H378.5H379.5H379.5H381.5H381.5H382.5H382.5H384.5H384.5H386.5H386.5H388.5H388.5H390.5H390.5H391.5H391.5H393.5H393.5H395.5H395.5H397.5H397.5H399.5H399.5H400.5H400.5H401.5H401.5H404.5H404.5H405.5H405.5H406.5H406.5H408.5H408.5H410.5H410.5H412.5H412.5H414.5H414.5H417.5H417.5H418.5H418.5H419.5H419.5H421.5H421.5H428.5H428.5H429.5H429.5H431.5H431.5H432.5H432.5H434.5H434.5H436.5H436.5H438.5H438.5H440.5H440.5H441.5H441.5H442.5H442.5H444.5H444.5H446.5H446.5H448.5H448.5H449.5H449.5H450.5H450.5H452.5H452.5H454.5H454.5H455.5H455.5H457.5H457.5H459.5H459.5H461.5H461.5H463.5H463.5H464.5H464.5H465.5H465.5H467.5H467.5H469.5H469.5H471.5H471.5H473.5H473.5H475.5H475.5H476.5H476.5H477.5H477.5H479.5H479.5H481.5H481.5H488.5H488.5H489.5H489.5H491.5H491.5H493.5H493.5H495.5H495.5H496.5H496.5H497.5H497.5H499.5H499.5H501.5H501.5H503.5H503.5H505.5H505.5H507.5H507.5H509.5H509.5H511.5H511.5H513.5H513.5H515.5H515.5H517.5H517.5H518.5H518.5H519.5H519.5H521.5H521.5H522.5H522.5H525.5H525.5H527.5H527.5H529.5H529.5H530.5H530.5H532.5H532.5H533.5H533.5H535.5H535.5H537.5H537.5H539.5H539.5H540.5H540.5H543.5H543.5H544.5H544.5H545.5H545.5H547.5H547.5H550.5H550.5H551.5H551.5H552.5H552.5H554.5H554.5H555.5H555.5H556.5H556.5H565.5H565.5H567.5H567.5H569.5H569.5H570.5H570.5H572.5H572.5H574.5H574.5H576.5H576.5H578.5H578.5H579.5H579.5H581.5H581.5H586.5H586.5H587.5H587.5H589.5H589.5H590.5H590.5H592.5H592.5H594.5H594.5H595.5H595.5H597.5H597.5H599.5H599.5H600.5H600.5H602.5H602.5H603.5H603.5H605.5H605.5H606.5H606.5H607.5H607.5H608.5H608.5H610.5H610.5H612.5H612.5H618.5H618.5H620.5H620.5H622.5H622.5H623.5H623.5H625.5H625.5H626.5H626.5H628.5H628.5H629.5H629.5H631.5H631.5H632.5H632.5H633.5H633.5H635.5H635.5H637.5H637.5H639.5H639.5H641.5H641.5H642.5H642.5H645.5H645.5H647.5H647.5H648.5H648.5H650.5H650.5H652.5H652.5H654.5H654.5H656.5H656.5H658.5H658.5H660.5H660.5H661.5H661.5H663.5H663.5H664.5H664.5H666.5H666.5H668.5H668.5H669.5H669.5H672.5H672.5H673.5H673.5H675.5H675.5H676.5H676.5H678.5H678.5H679.5H679.5H681.5H681.5H683.5H683.5H684.5H684.5H686.5H686.5H688.5H688.5H689.5H689.5H690.5H690.5H692.5H692.5H693.5H693.5H695.5H695.5H697.5H697.5H699.5H699.5H701.5H701.5H703.5H703.5H704.5H704.5H705.5H705.5H707.5H707.5H709.5H709.5H710.5H710.5H713.5H713.5H714.5H714.5H715.5H715.5H717.5H717.5H718.5H718.5H719.5H719.5H722.5H722.5H724.5H724.5H725.5H725.5H727.5H727.5H729.5H729.5H730.5H730.5H732.5H732.5H734.5H734.5H736.5H736.5H738.5H738.5H739.5H739.5H740.5H740.5H741.5H741.5H743.5H743.5H745.5H745.5H746.5H746.5H748.5H748.5H751.5H751.5H753.5H753.5H754.5H754.5H756.5H756.5H757.5H757.5H758.5H758.5H760.5H760.5H762.5H762.5H764.5H764.5H765.5H765.5H767.5H767.5H768.5H768.5H770.5H770.5H772.5H772.5H773.5H773.5H775.5H775.5H778.5H778.5H779.5H779.5H781.5H781.5H782.5H782.5H784.5H784.5H785.5H785.5H787.5H787.5H789.5H789.5H791.5H791.5H792.5H792.5H793.5H793.5H794.5H794.5H796.5H796.5H798.5H798.5H799.5H799.5H801.5H801.5H802.5H802.5H804.5H804.5H806.5H806.5H809.5H809.5H810.5H810.5H812.5H812.5H814.5H814.5H815.5H815.5H817.5H817.5H819.5H819.5H820.5H820.5H822.5H822.5H823.5H823.5H825.5H825.5H827.5H827.5H829.5H829.5H830.5H830.5H832.5H832.5H834.5H834.5H836.5H836.5H837.5H837.5H839.5H839.5H840.5H840.5H842.5H842.5H845.5H845.5H846.5H846.5H848.5H848.5H850.5H850.5H851.5H851.5H853.5H853.5H855.5H855.5H857.5H857.5H859.5H859.5H861.5H861.5H863.5H863.5H864.5H864.5H866.5H866.5H867.5H867.5H868.5H868.5H870.5H870.5H872.5H872.5H874.5H874.5H875.5H875.5H878.5H878.5H884.5H884.5H886.5H886.5H887.5H887.5H888.5H888.5H890.5H890.5H892.5H892.5H893.5H893.5H894.5H894.5H896.5H896.5H897.5H897.5H899.5H899.5H901.5H901.5H902.5H902.5H903.5H903.5H905.5H905.5H906.5H906.5H908.5H908.5H909.5H909.5H911.5H911.5H912.5H912.5H914.5H914.5H916.5H916.5H917.5H917.5H919.5H919.5H921.5H921.5H923.5H923.5H925.5H925.5H926.5H926.5H927.5H927.5H930.5H930.5H932.5H932.5H933.5H933.5H935.5H935.5H937.5H937.5H939.5H939.5H941.5H941.5H942.5H942.5H943.5H943.5"/>
<path d="M122.5 420.5H122.5H123.5H123.5H125.5H125.5H127.5H127.5H128.5H128.5H129.5H129.5H131.5H131.5H133.5H133.5H134.5H134.5H136.5H136.5H137.5H137.5H139.5H139.5H140.5H140.5H142.5H142.5H143.5H143.5H145.5H145.5H153.5H153.5H154.5H154.5H155.5H155.5H157.5H157.5H158.5H158.5H160.5H160.5H161.5H161.5H164.5H164.5H165.5H165.5H167.5H167.5H169.5H169.5H170.5H170.5H172.5H172.5H174.5H174.5H176.5H176.5H177.5H177.5H179.5H179.5H180.5H180.5H182.5H182.5H184.5H184.5H185.5H185.5H187.5H187.5H188.5H188.5H190.5H190.5H193.5H193.5H195.5H195.5H196.5H196.5H197.5H197.5H198.5H198.5H200.5H200.5H202.5H202.5H204.5H204.5H206.5H206.5H208.5H208.5H210.5H210.5H211.5H211.5H212.5H212.5H214.5H214.5H216.5H216.5H218.5H218.5H219.5H219.5H220.5H220.5H222.5H222.5H224.5H224.5H227.5H227.5H228.5H228.5H230.5H230.5H233.5H233.5H234.5H234.5H236.5H236.5H238.5H238.5H240.5H240.5H242.5H242.5H244.5H244.5H246.5H246.5H248.5H248.5H249.5H249.5H252.5H252.5H253.5H253.5H255.5H255.5H256.5H256.5H258.5H258.5H259.5H259.5H261.5H261.5H262.5H262.5H263.5H263.5H264.5H264.5H266.5H266.5H269.5H269.5H270.5H270.5H272.5H272.5H274.5H274.5H276.5H276.5H278.5H278.5H280.5H280.5H281.5H281.5H283.5H283.5H285.5H285.5H286.5H286.5H287.5H287.5H289.5H289.5H290.5H290.5H292.5H292.5H294.5H294.5H296.5H296.5H297.5H297.5H298.5H298.5H300.5H300.5H302.5H302.5H304.5H304.5H306.5H306.5H307.5H307.5H309.5H309.5H310.5H310.5H312.5H312.5H314.5H314.5H315.5H315.5H317.5H317.5H319.5H319.5H321.5H321.5H323.5H323.5H325.5H325.5H326.5H326.5H328.5H328.5H330.5H330.5H332.5H332.5H335.5H335.5H336.5H336.5H338.5H338.5H339.5H339.5H340.5H340.5H341.5H341.5H343.5H343.5H345.5H345.5H346.5H346.5H348.5H348.5H350.5H350.5H352.5H352.5H354.5H354.5H355.5H355.5H357.5H357.5H358.5H358.5H360.5H360.5H361.5H361.5H362.5H362.5H363.5H363.5H365.5H365.5H366.5H366.5H368.5H368.5H370.5H370.5H372.5H372.5H373.5H373.5H374.5H374.5H376.5H376.5H378.5H378.5H380.5H380.5H382.5H382.5H383.5H383.5H385.5H385.5H386.5H386.5H388.5H388.5H389.5H389.5H391.5H391.5H392.5H392.5H394.5H394.5H395.5H395.5H397.5H397.5H398.5H398.5H400.5H400.5H402.5H402.5H403.5H403.5H404.5H404.5H406.5H406.5H407.5H407.5H410.5H410.5H412.5H412.5H414.5H414.5H416.5H416.5H417.5H417.5H419.5H419.5H422.5H422.5H424.5H424.5H425.5H425.5H426.5H426.5H428.5H428.5H429.5H429.5H431.5H431.5H432.5H432.5H434.5H434.5H435.5H435.5H437.5H437.5H438.5H438.5H440.5H440.5H442.5H442.5H443.5H443.5H444.5H444.5H446.5H446.5H447.5H447.5H449.5H449.5H451.5H451.5H453.5H453.5H455.5H455.5H457.5H457.5H458.5H458.5H460.5H460.5H462.5H462.5H464.5H464.5H465.5H465.5H470.5H470.5H471.5H471.5H476.5H476.5H478.5H478.5H485.5H485.5H486.5H486.5H487.5H487.5H489.5H489.5H491.5H491.5H493.5H493.5H495.5H495.5H496.5H496.5H499.5H499.5H500.5H500.5H502.5H502.5H504.5H504.5H509.5H509.5H511.5H511.5H512.5H512.5H514.5H514.5H516.5H516.5H517.5H517.5H519.5H519.5H521.5H521.5H523.5H523.5H524.5H524.5H526.5H526.5H527.5H527.5H532.5H532.5H533.5H533.5H535.5H535.5H538.5H538.5H539.5H539.5H540.5H540.5H541.5H541.5H543.5H543.5H545.5H545.5H546.5H546.5H548.5H548.5H550.5H550.5H551.5H551.5H553.5H553.5H555.5H555.5H556.5H556.5H558.5H558.5H561.5H561.5H563.5H563.5H565.5H565.5H568.5H568.5H569.5H569.5H570.5H570.5H571.5H571.5H573.5H573.5H575.5H575.5H577.5H577.5H579.5H579.5H580.5H580.5H581.5H581.5H583.5H583.5H584.5H584.5H586.5H586.5H588.5H588.5H590.5H590.5H591.5H591.5H593.5H593.5H595.5H595.5H597.5H597.5H598.5H598.5H600.5H600.5H602.5H602.5H603.5H603.5H605.5H605.5H607.5H607.5H608.5H608.5H610.5H610.5H612.5H612.5H614.5H614.5H616.5H616.5H618.5H618.5H620.5H620.5H621.5H621.5H623.5H623.5H624.5H624.5H625.5H625.5H627.5H627.5H629.5H629.5H631.5H631.5H633.5H633.5H634.5H634.5H635.5H635.5H637.5H637.5H638.5H638.5H640.5H640.5H641.5H641.5H642.5H642.5H643.5H643.5H644.5H644.5H645.5H645.5H647.5H647.5H649.5H649.5H650.5H650.5H652.5H652.5H654.5H654.5H655.5H655.5H657.5H657.5H659.5H659.5H661.5H661.5H664.5H664.5H665.5H665.5H666.5H666.5H669.5H669.5H670.5H670.5H671.5H671.5H673.5H673.5H675.5H675.5H676.5H676.5H678.5H678.5H680.5H680.5H682.5H682.5H683.5H683.5H684.5H684.5H686.5H686.5H687.5H687.5H688.5H688.5H689.5H689.5H691.5H691.5H692.5H692.5H693.5H693.5H694.5H694.5H696.5H696.5H698.5H698.5H699.5H699.5H701.5H701.5H704.5H704.5H706.5H706.5H707.5H707.5H709.5H709.5H710.5H710.5H711.5H711.5H713.5H713.5H714.5H714.5H715.5H715.5H717.5H717.5H719.5H719.5H721.5H721.5H722.5H722.5H724.5H724.5H725.5H725.5H727.5H727.5H728.5H728.5H730.5H730.5H732.5H732.5H734.5H734.5H736.5H736.5H738.5H738.5H740.5H740.5H741.5H741.5H743.5H743.5H745.5H745.5H746.5H746.5H748.5H748.5H750.5H750.5H751.5H751.5H753.5H753.5H754.5H754.5H756.5H756.5H757.5H757.5H758.5H758.5H760.5H760.5H762.5H762.5H763.5H763.5H765.5H765.5H766.5H766.5H768.5H768.5H770.5H770.5H771.5H771.5H773.5H773.5H778.5H778.5H780.5H780.5H781.5H781.5H783.5H783.5H785.5H785.5H786.5H786.5H787.5H787.5H789.5H789.5H791.5H791.5H792.5H792.5H793.5H793.5H796.5H796.5H798.5H798.5H800.5H800.5H801.5H801.5H803.5H803.5H806.5H806.5H808.5H808.5H809.5H809.5H810.5H810.5H813.5H813.5H814.5H814.5H815.5H815.5H816.5H816.5H818.5H818.5H820.5H820.5H822.5H822.5H823.5H823.5H824.5H824.5H826.5H826.5H827.5H827.5H830.5H830.5H831.5H831.5H832.5H832.5H833.5H833.5H836.5H836.5H837.5H837.5H839.5H839.5H841.5H841.5H843.5H843.5H845.5H845.5H846.5H846.5H847.5H847.5H849.5H849.5H850.5H850.5H851.5H851.5H853.5H853.5H855.5H855.5H857.5H857.5H858.5H858.5H859.5H859.5H861.5H861.5H864.5H864.5H866.5H866.5H867.5H867.5H868.5H868.5H870.5H870.5H872.5H872.5H874.5H874.5H876.5H876.5H878.5H878.5H880.5H880.5H882.5H882.5H883.5H883.5H885.5H885.5H887.5H887.5H889.5H889.5H890.5H890.5H892.5H892.5H894.5H894.5H896.5H896.5H898.5H898.5H899.5H899.5H901.5H901.5H903.5H903.5H904.5H904.5H906.5H906.5H907.5H907.5H909.5H909.5H911.5H911.5H912.5H912.5H914.5H914.5H916.5H916.5H918.5H918.5H920.5H920.5H922.5H922.5H924.5H924.5H927.5H927.5H929.5H929.5H931.5H931.5H932.5H932.5H933.5H933.5H935.5H935.5H936.5H936.5H937.5H937.5H938.5H938.5H939.5H939.5H941.5H941.5H942.5H942.5H943.5H943.5H944.5H944.5"/>
<path d="M122.5 386.5H122.5H124.5H124.5H126.5H126.5H128.5H128.5H129.5H129.5H132.5H132.5H133.5H133.5H135.5H135.5H136.5H136.5H138.5H138.5H140.5H140.5H142.5H142.5H143.5H143.5H145.5H145.5H146.5H146.5H148.5H148.5H150.5H150.5H151.5H151.5H153.5H153.5H155.5H155.5H157.5H157.5H159.5H159.5H162.5H162.5H170.5H170.5H172.5H172.5H174.5H174.5H176.5H176.5H178.5H178.5H180.5H180.5H183.5H183.5H184.5H184.5H186.5H186.5H188.5H188.5H190.5H190.5H191.5H191.5H193.5H193.5H195.5H195.5H200.5H200.5H201.5H201.5H203.5H203.5H205.5H205.5H208.5H208.5H210.5H210.5H211.5H211.5H213.5H213.5H214.5H214.5H216.5H216.5H218.5H218.5H219.5H219.5H220.5H220.5H222.5H222.5H224.5H224.5H226.5H226.5H228.5H228.5H229.5H229.5H230.5H230.5H231.5H231.5H233.5H233.5H235.5H235.5H236.5H236.5H238.5H238.5H239.5H239.5H242.5H242.5H243.5H243.5H245.5H245.5H246.5H246.5H248.5H248.5H249.5H249.5H251.5H251.5H253.5H253.5H254.5H254.5H257.5H257.5H258.5H258.5H260.5H260.5H262.5H262.5H263.5H263.5H265.5H265.5H267.5H267.5H274.5H274.5H275.5H275.5H277.5H277.5H278.5H278.5H280.5H280.5H281.5H281.5H289.5H289.5H290.5H290.5H292.5H292.5H299.5H299.5H300.5H300.5H302.5H302.5H303.5H303.5H304.5H304.5H306.5H306.5H308.5H308.5H310.5H310.5H311.5H311.5H312.5H312.5H315.5H315.5H317.5H317.5H319.5H319.5H320.5H320.5H322.5H322.5H324.5H324.5H325.5H325.5H326.5H326.5H328.5H328.5H330.5H330.5H332.5H332.5H333.5H333.5H336.5H336.5H338.5H338.5H340.5H340.5H341.5H341.5H342.5H342.5H344.5H344.5H346.5H346.5H347.5H347.5H348.5H348.5H350.5H350.5H352.5H352.5H354.5H354.5H356.5H356.5H357.5H357.5H358.5H358.5H359.5H359.5H360.5H360.5H361.5H361.5H363.5H363.5H364.5H364.5H365.5H365.5H367.5H367.5H369.5H369.5H371.5H371.5H372.5H372.5H374.5H374.5H375.5H375.5H377.5H377.5H379.5H379.5H380.5H380.5H382.5H382.5H384.5H384.5H385.5H385.5H386.5H386.5H389.5H389.5H390.5H390.5H398.5H398.5H399.5H399.5H401.5H401.5H403.5H403.5H405.5H405.5H407.5H407.5H408.5H408.5H410.5H410.5H411.5H411.5H413.5H413.5H414.5H414.5H416.5H416.5H418.5H418.5H419.5H419.5H422.5H422.5H423.5H423.5H429.5H429.5H431.5H431.5H433.5H433.5H434.5H434.5H436.5H436.5H437.5H437.5H438.5H438.5H440.5H440.5H442.5H442.5H444.5H444.5H445.5H445.5H446.5H446.5H448.5H448.5H450.5H450.5H452.5H452.5H453.5H453.5H455.5H455.5H456.5H456.5H458.5H458.5H460.5H460.5H462.5H462.5H463.5H463.5H465.5H465.5H466.5H466.5H477.5H477.5H484.5H484.5H485.5H485.5H487.5H487.5H489.5H489.5H490.5H490.5H493.5H493.5H494.5H494.5H496.5H496.5H497.5H497.5H499.5H499.5H500.5H500.5H502.5H502.5H504.5H504.5H506.5H506.5H508.5H508.5H510.5H510.5H511.5H511.5H513.5H513.5H520.5H520.5H521.5H521.5H522.5H522.5H524.5H524.5H526.5H526.5H528.5H528.5H529.5H529.5H534.5H534.5H535.5H535.5H537.5H537.5H538.5H538.5H539.5H539.5H541.5H541.5H544.5H544.5H546.5H546.5H547.5H547.5H549.5H549.5H551.5H551.5H553.5H553.5H554.5H554.5H555.5H555.5H560.5H560.5H562.5H562.5H564.5H564.5H569.5H569.5H571.5H571.5H573.5H573.5H580.5H580.5H582.5H582.5H584.5H584.5H585.5H585.5H587.5H587.5H588.5H588.5H590.5H590.5H592.5H592.5H594.5H594.5H596.5H596.5H597.5H597.5H598.5H598.5H599.5H599.5H600.5H600.5H602.5H602.5H604.5H604.5H606.5H606.5H614.5H614.5H616.5H616.5H617.5H617.5H619.5H619.5H620.5H620.5H622.5H622.5H623.5H623.5H625.5H625.5H626.5H626.5H627.5H627.5H629.5H629.5H630.5H630.5H632.5H632.5H633.5H633.5H635.5H635.5H637.5H637.5H638.5H638.5H641.5H641.5H642.5H642.5H644.5H644.5H646.5H646.5H647.5H647.5H648.5H648.5H649.5H649.5H650.5H650.5H652.5H652.5H654.5H654.5H655.5H655.5H657.5H657.5H658.5H658.5H660.5H660.5H661.5H661.5H662.5H662.5H663.5H663.5H665.5H665.5H667.5H667.5H668.5H668.5H669.5H669.5H671.5H671.5H673.5H673.5H675.5H675.5H676.5H676.5H678.5H678.5H680.5H680.5H681.5H681.5H683.5H683.5H684.5H684.5H686.5H686.5H687.5H687.5H688.5H688.5H690.5H690.5H693.5H693.5H694.5H694.5H695.5H695.5H697.5H697.5H699.5H699.5H700.5H700.5H702.5H702.5H704.5H704.5H706.5H706.5H707.5H707.5H708.5H708.5H710.5H710.5H711.5H711.5H713.5H713.5H715.5H715.5H717.5H717.5H719.5H719.5H721.5H721.5H723.5H723.5H725.5H725.5H727.5H727.5H729.5H729.5H730.5H730.5H739.5H739.5H740.5H740.5H742.5H742.5H744.5H744.5H746.5H746.5H747.5H747.5H750.5H750.5H752.5H752.5H753.5H753.5H755.5H755.5H758.5H758.5H759.5H759.5H760.5H760.5H761.5H761.5H762.5H762.5H764.5H764.5H766.5H766.5H768.5H768.5H770.5H770.5H772.5H772.5H779.5H779.5H781.5H781.5H782.5H782.5H784.5H784.5H785.5H785.5H788.5H788.5H790.5H790.5H791.5H791.5H792.5H792.5H794.5H794.5H795.5H795.5H797.5H797.5H798.5H798.5H799.5H799.5H801.5H801.5H802.5H802.5H804.5H804.5H806.5H806.5H808.5H808.5H809.5H809.5H810.5H810.5H813.5H813.5H814.5H814.5H815.5H815.5H817.5H817.5H819.5H819.5H821.5H821.5H823.5H823.5H824.5H824.5H825.5H825.5H827.5H827.5H829.5H829.5H830.5H830.5H832.5H832.5H834.5H834.5H836.5H836.5H837.5H837.5H838.5H838.5H840.5H840.5H842.5H842.5H844.5H844.5H845.5H845.5H847.5H847.5H854.5H854.5H856.5H856.5H858.5H858.5H860.5H860.5H861.5H861.5H866.5H866.5H868.5H868.5H869.5H869.5H871.5H871.5H873.5H873.5H878.5H878.5H879.5H879.5H881.5H881.5H883.5H883.5H884.5H884.5H886.5H886.5H887.5H887.5H889.5H889.5H891.5H891.5H893.5H893.5H895.5H895.5H896.5H896.5H898.5H898.5H899.5H899.5H901.5H901.5H903.5H903.5H906.5H906.5H907.5H907.5H909.5H909.5H910.5H910.5H912.5H912.5H913.5H913.5H914.5H914.5H916.5H916.5H919.5H919.5H921.5H921.5H923.5H923.5H925.5H925.5H928.5H928.5H929.5H929.5H931.5H931.5H936.5H936.5H937.5H937.5H940.5H940.5"/>
<path d="M122.5 351.5H125.5H127.5H130.5H132.5H135.5H137.5H138.5H140.5H144.5H145.5H146.5H150.5H153.5H154.5H156.5H160.5H178.5H185.5H187.5H194.5H196.5H205.5H209.5H216.5H218.5H221.5H222.5H224.5H226.5H227.5H229.5H230.5H232.5H234.5H235.5H238.5H251.5H252.5H259.5H261.5H263.5H265.5H267.5H268.5H271.5H274.5H275.5H277.5H279.5H282.5H284.5H286.5H289.5H290.5H292.5H293.5H302.5H312.5H313.5H322.5H323.5H324.5H326.5H328.5H332.5H334.5H337.5H339.5H340.5H343.5H346.5H348.5H351.5H352.5H354.5H357.5H358.5H361.5H364.5H366.5H374.5H377.5H382.5H387.5H395.5H397.5H398.5H399.5H403.5H410.5H412.5H413.5H415.5H416.5H418.5H421.5H422.5H431.5H434.5H439.5H442.5H452.5H457.5H465.5H470.5H477.5H487.5H488.5H504.5H507.5H508.5H509.5H510.5H514.5H515.5H517.5H524.5H526.5H534.5H536.5H544.5H545.5H547.5H549.5H551.5H552.5H554.5H555.5H558.5H559.5H567.5H579.5H581.5H582.5H584.5H585.5H586.5H593.5H597.5H601.5H611.5H613.5H624.5H626.5H627.5H629.5H630.5H632.5H635.5H636.5H637.5H639.5H640.5H641.5H642.5H645.5H648.5H650.5H654.5H657.5H658.5H661.5H663.5H666.5H669.5H672.5H675.5H676.5H677.5H678.5H681.5H683.5H684.5H686.5H687.5H690.5H692.5H694.5H697.5H701.5H703.5H706.5H709.5H711.5H713.5H715.5H718.5H720.5H723.5H725.5H727.5H729.5H732.5H740.5H745.5H748.5H751.5H753.5H756.5H758.5H760.5H763.5H766.5H768.5H769.5H771.5H773.5H780.5H784.5H793.5H795.5H798.5H799.5H801.5H804.5H807.5H809.5H811.5H812.5H813.5H816.5H818.5H821.5H823.5H830.5H832.5H835.5H837.5H838.5H840.5H841.5H842.5H844.5H852.5H853.5H865.5H868.5H869.5H871.5H873.5H875.5H876.5H877.5H884.5H887.5H890.5H892.5H894.5H896.5H898.5H900.5H902.5H905.5H907.5H910.5H911.5H913.5H914.5H916.5H918.5H921.5H922.5H924.5H928.5H929.5H931.5H934.5H935.5H937.5H940.5H943.5"/>
<path d="M121.5 317.5H124.5H129.5H130.5H132.5H134.5H136.5H140.5H152.5H154.5H157.5H159.5H161.5H162.5H173.5H181.5H182.5H186.5H189.5H191.5H193.5H201.5H208.5H209.5H211.5H213.5H217.5H220.5H222.5H226.5H228.5H231.5H247.5H249.5H257.5H269.5H272.5H275.5H277.5H286.5H295.5H305.5H312.5H315.5H318.5H319.5H326.5H328.5H331.5H333.5H335.5H338.5H340.5H344.5H347.5H350.5H351.5H354.5H357.5H359.5H361.5H362.5H365.5H366.5H369.5H372.5H379.5H380.5H382.5H383.5H386.5H388.5H399.5H406.5H409.5H413.5H414.5H434.5H438.5H456.5H461.5H492.5H504.5H505.5H527.5H529.5H540.5H541.5H584.5H586.5H591.5H597.5H623.5H625.5H630.5H633.5H635.5H638.5H640.5H642.5H643.5H648.5H649.5H654.5H656.5H659.5H663.5H666.5H668.5H670.5H673.5H677.5H679.5H680.5H681.5H682.5H684.5H686.5H689.5H693.5H694.5H697.5H700.5H701.5H705.5H709.5H710.5H713.5H714.5H715.5H717.5H719.5H721.5H723.5H725.5H727.5H728.5H745.5H747.5H752.5H753.5H758.5H760.5H763.5H765.5H769.5H771.5H776.5H777.5H782.5H784.5H786.5H788.5H792.5H793.5H796.5H798.5H799.5H802.5H804.5H808.5H810.5H814.5H816.5H821.5H823.5H824.5H826.5H829.5H831.5H833.5H835.5H837.5H838.5H840.5H843.5H857.5H859.5H861.5H863.5H865.5H867.5H868.5H870.5H873.5H874.5H877.5H887.5H896.5H907.5H912.5H917.5H918.5H920.5H922.5H925.5H930.5H933.5H935.5H937.5H939.5"/>
<path d="M124.5 283.5H128.5H131.5H132.5H139.5H142.5H145.5H150.5H151.5H158.5H168.5H176.5H187.5H191.5H193.5H209.5H213.5H215.5H219.5H223.5H224.5H242.5H249.5H251.5H259.5H261.5H267.5H269.5H300.5H321.5H338.5H343.5H346.5H349.5H352.5H354.5H359.5H361.5H364.5H366.5H375.5H380.5H385.5H401.5H403.5H415.5H416.5H431.5H436.5H440.5H457.5H545.5H546.5H574.5H584.5H594.5H597.5H599.5H615.5H638.5H642.5H646.5H656.5H661.5H672.5H675.5H678.5H683.5H687.5H689.5H692.5H699.5H701.5H706.5H709.5H714.5H723.5H726.5H745.5H748.5H764.5H768.5H772.5H775.5H779.5H786.5H788.5H791.5H794.5H797.5H800.5H803.5H805.5H809.5H810.5H819.5H822.5H827.5H829.5H832.5H834.5H837.5H842.5H853.5H880.5H885.5H895.5H898.5H901.5H903.5H906.5H909.5H911.5H918.5H921.5H923.5H927.5H930.5H932.5H939.5"/>
<path d="M124.5 248.5H139.5H154.5H162.5H178.5H186.5H193.5H194.5H208.5H212.5H217.5H222.5H235.5H269.5H289.5H326.5H331.5H336.5H340.5H344.5H349.5H350.5H357.5H360.5H364.5H375.5H377.5H385.5H413.5H435.5H436.5H458.5H508.5H513.5H537.5H548.5H555.5H559.5H574.5H623.5H635.5H638.5H659.5H663.5H666.5H670.5H672.5H675.5H678.5H685.5H690.5H691.5H699.5H701.5H704.5H707.5H711.5H716.5H721.5H726.5H753.5H763.5H768.5H770.5H782.5H785.5H789.5H793.5H798.5H807.5H826.5H836.5H837.5H839.5H860.5H875.5H919.5H923.5H926.5H931.5"/>
<path d="M124.5 214.5H209.5H214.5H236.5H335.5H338.5H349.5H357.5H359.5H367.5H408.5H634.5H639.5H661.5H673.5H677.5H699.5H702.5H705.5H707.5H712.5H723.5H726.5H771.5H791.5H793.5H806.5H808.5H825.5H842.5H860.5H874.5H889.5H898.5H909.5H930.5H934.5"/>
<path d="M131.5 180.5H333.5H349.5H360.5H365.5H677.5H679.5H697.5H702.5H762.5H767.5H768.5H811.5H813.5H927.5"/>
<path d="M218.5 145.5H359.5H364.5H365.5H657.5H701.5H709.5H762.5H779.5H826.5"/>
</g>
<g stroke="#000" stroke-width="1.11">
<line x1="121.50" y1="942.5" x2="121.50" y2="947.36"/>
<line x1="288.50" y1="942.5" x2="288.50" y2="947.36"/>
<line x1="454.50" y1="942.5" x2="454.50" y2="947.36"/>
<line x1="621.50" y1="942.5" x2="621.50" y2="947.36"/>
<line x1="788.50" y1="942.5" x2="788.50" y2="947.36"/>
<line x1="955.50" y1="942.5" x2="955.50" y2="947.36"/>
<line x1="75.64" y1="935.50" x2="80.5" y2="935.50"/>
<line x1="75.64" y1="763.50" x2="80.5" y2="763.50"/>
<line x1="75.64" y1="592.50" x2="80.5" y2="592.50"/>
<line x1="75.64" y1="420.50" x2="80.5" y2="420.50"/>
<line x1="75.64" y1="248.50" x2="80.5" y2="248.50"/>
<line x1="75.64" y1="77.50" x2="80.5" y2="77.50"/>
</g>
<rect x="80.5" y="35.5" width="905.0" height="907.0" fill="none" stroke="#000" stroke-width="1.11"/>
<g font-size="13.89">
<text x="120.90" y="962.10" text-anchor="middle">0</text>
<text x="287.90" y="962.10" text-anchor="middle">2000</text>
<text x="453.90" y="962.10" text-anchor="middle">4000</text>
<text x="620.90" y="962.10" text-anchor="middle">6000</text>
<text x="787.90" y="962.10" text-anchor="middle">8000</text>
<text x="954.90" y="962.10" text-anchor="middle">10000</text>
<text x="35.10" y="940.00" letter-spacing="-0.35">4795</text>
<text x="35.10" y="768.00" letter-spacing="-0.35">4800</text>
<text x="35.10" y="597.00" letter-spacing="-0.35">4805</text>
<text x="35.10" y="425.00" letter-spacing="-0.35">4810</text>
<text x="35.10" y="253.00" letter-spacing="-0.35">4815</text>
<text x="35.10" y="82.00" letter-spacing="-0.35">4820</text>
</g>
<text x="531.90" y="981.5" font-size="13.89" text-anchor="middle">Sample #</text>
<text transform="translate(24.6 489.60) rotate(-90)" font-size="13.89" text-anchor="middle">ADC Counts</text>
<text x="532.30" y="27.2" font-size="16.67" text-anchor="middle">Run 675, channel012, Pedestal</text>
<g>
<rect x="780.5" y="42.5" width="198" height="45" rx="2.8" ry="2.8" fill="#fff" fill-opacity="0.8" stroke="#ccc" stroke-width="1"/>
<circle cx="799.3" cy="65.3" r="2.75" fill="#000"/>
<circle cx="801.3" cy="77.5" r="2.75" fill="#000" fill-opacity="0.2"/>
<text x="825" y="58.8" font-size="13.89" letter-spacing="-0.18">Samples</text>
<text x="825" y="76.3" font-size="13.89"><tspan font-style="italic">μ</tspan> = 4808.14, <tspan font-style="italic" dx="-0.9">σ</tspan> = <tspan dx="0.9">3.0</tspan></text>
</g>
</svg></body></html>
